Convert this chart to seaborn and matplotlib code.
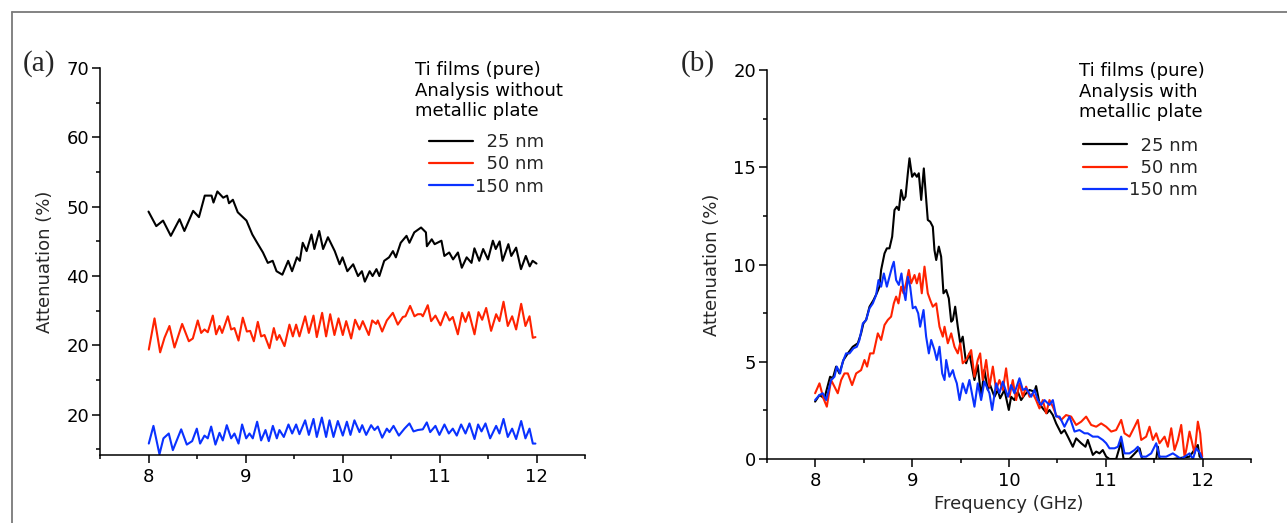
import matplotlib
matplotlib.use("Agg")
import matplotlib.pyplot as plt
from matplotlib.lines import Line2D
from matplotlib.ticker import MultipleLocator, FixedLocator
import numpy as np
import pandas as pd
import seaborn as sns

# ---------------- data ----------------
FILMS = ["25 nm", "50 nm", "150 nm"]
LEGEND_LABELS = ["  25 nm", "  50 nm", "150 nm"]
COLORS = {"25 nm": "#000000", "50 nm": "#ff2200", "150 nm": "#0a32ff"}

# Panel (a): without metallic plate
A_FREQ_25 = [8.00, 8.08, 8.15, 8.23, 8.32, 8.37, 8.46, 8.52, 8.58, 8.65, 8.67, 8.71, 8.77, 8.81, 8.83,
             8.87, 8.92, 9.01, 9.07, 9.12, 9.18, 9.23, 9.28, 9.32, 9.38, 9.44, 9.48, 9.53, 9.56, 9.59,
             9.63, 9.68, 9.71, 9.76, 9.80, 9.85, 9.92, 9.97, 10.00, 10.05, 10.11, 10.16, 10.20, 10.23,
             10.28, 10.31, 10.35, 10.38, 10.43, 10.48, 10.52, 10.55, 10.60, 10.66, 10.69, 10.74, 10.81,
             10.86, 10.87, 10.92, 10.95, 11.02, 11.05, 11.10, 11.14, 11.19, 11.23, 11.28, 11.33, 11.36,
             11.41, 11.45, 11.50, 11.55, 11.58, 11.62, 11.65, 11.71, 11.74, 11.79, 11.84, 11.89, 11.93,
             11.96, 12.00]
A_ATT_25 = [49.3, 47.2, 48.0, 45.8, 48.2, 46.5, 49.4, 48.5, 51.6, 51.6, 50.6, 52.2, 51.3, 51.6, 50.5,
            51.0, 49.2, 48.0, 46.0, 44.8, 43.4, 41.9, 42.2, 40.7, 40.2, 42.2, 40.7, 42.7, 42.2, 44.8,
            43.6, 46.0, 43.9, 46.5, 43.9, 45.6, 43.6, 41.7, 42.7, 40.7, 41.7, 40.0, 40.7, 39.2,
            40.7, 40.0, 41.0, 40.0, 42.2, 42.7, 43.6, 42.7, 44.8, 45.8, 44.8, 46.3, 47.0,
            46.3, 44.3, 45.3, 44.6, 45.1, 42.9, 43.4, 42.4, 43.4, 41.2, 42.7, 41.9, 44.0,
            42.2, 43.9, 42.4, 45.1, 43.9, 45.0, 42.2, 44.6, 42.9, 44.1, 41.0, 42.9, 41.4,
            42.2, 41.8]

A_FREQ_50 = [8.003, 8.062, 8.120, 8.165, 8.216, 8.268, 8.347, 8.416, 8.457, 8.508, 8.543, 8.577, 8.611,
             8.663, 8.697, 8.732, 8.759, 8.818, 8.852, 8.886, 8.928, 8.972, 9.014, 9.048, 9.086, 9.127,
             9.161, 9.196, 9.247, 9.292, 9.323, 9.350, 9.402, 9.453, 9.488, 9.522, 9.556, 9.615, 9.653,
             9.701, 9.735, 9.790, 9.831, 9.873, 9.917, 9.959, 10.003, 10.038, 10.089, 10.130, 10.175,
             10.209, 10.271,
             10.306, 10.347, 10.364, 10.409, 10.457, 10.519, 10.570, 10.622, 10.649, 10.697, 10.742,
             10.776, 10.811, 10.828, 10.879, 10.914, 10.958, 11.010, 11.062, 11.103, 11.137, 11.189,
             11.233, 11.268, 11.302, 11.361, 11.402, 11.440, 11.481, 11.532, 11.584, 11.618, 11.660,
             11.704, 11.749, 11.790, 11.842, 11.886, 11.928, 11.962, 11.989]
A_ATT_50 = [29.4, 33.9, 29.0, 31.1, 32.8, 29.7, 33.1, 30.6, 31.0, 33.6, 31.8, 32.3, 31.9,
            34.3, 31.6, 32.8, 31.8, 34.2, 32.3, 32.5, 30.7, 34.0, 32.0, 32.1, 30.6, 33.4,
            31.3, 31.5, 29.6, 32.5, 30.8, 31.5, 29.9, 33.0, 31.3, 33.0, 31.3, 34.2, 31.8,
            34.3, 31.2, 34.7, 31.3, 34.5, 31.5, 33.9, 31.5, 33.5, 31.0, 33.7, 32.3,
            33.5, 31.5,
            33.6, 33.1, 33.6, 32.0, 33.6, 34.7, 33.0, 34.1, 34.2, 35.7, 34.2,
            34.5, 34.5, 34.2, 35.8, 33.5, 34.3, 32.9, 34.8, 33.6, 34.1, 31.6,
            34.7, 33.4, 34.8, 31.6, 34.8, 33.7, 35.4, 32.1, 34.5, 33.5, 36.3,
            32.8, 34.2, 32.3, 36.0, 32.8, 34.2, 31.1, 31.2]

A_FREQ_150 = [8.003, 8.051, 8.113, 8.154, 8.209, 8.251, 8.337, 8.395, 8.450, 8.498, 8.532, 8.577, 8.611,
              8.646, 8.690, 8.732, 8.766, 8.807, 8.852, 8.886, 8.928, 8.965, 9.007, 9.041, 9.075, 9.120,
              9.161, 9.206, 9.240, 9.282, 9.323, 9.350, 9.395, 9.443, 9.481, 9.522, 9.556, 9.615, 9.653,
              9.701, 9.735, 9.787, 9.831, 9.866, 9.907, 9.952, 10.003, 10.045, 10.082, 10.123, 10.175,
              10.203, 10.244,
              10.295, 10.330, 10.364, 10.409, 10.457, 10.484, 10.526, 10.581, 10.639, 10.690, 10.732,
              10.776, 10.828, 10.869, 10.904, 10.958, 10.999, 11.051, 11.096, 11.137, 11.178, 11.223,
              11.268, 11.309, 11.361, 11.398, 11.433, 11.474, 11.522, 11.584, 11.618, 11.660, 11.704,
              11.749, 11.790, 11.842, 11.886, 11.928, 11.962, 11.989]
A_ATT_150 = [15.85, 18.4, 14.3, 16.6, 17.3, 14.9, 17.9, 15.7, 16.2, 18.0, 15.85, 17.0, 16.6,
             18.3, 15.7, 17.4, 16.3, 18.5, 16.6, 17.3, 15.85, 18.6, 16.6, 17.3, 16.6, 19.0,
             16.3, 17.8, 16.2, 18.4, 16.6, 17.8, 16.8, 18.6, 17.3, 18.6, 17.2, 19.2, 17.1,
             19.4, 16.8, 19.6, 16.8, 19.2, 16.8, 19.1, 17.0, 19.0, 17.1, 19.2, 17.5,
             18.5, 17.1,
             18.5, 17.8, 18.3, 16.7, 18.0, 17.5, 18.4, 17.0, 18.0, 18.75, 17.6,
             17.8, 17.9, 18.9, 17.5, 18.4, 17.1, 18.6, 17.3, 18.0, 17.0, 18.6,
             17.3, 18.75, 16.5, 18.6, 17.6, 18.75, 16.6, 18.4, 17.3, 19.4, 16.8,
             18.0, 16.5, 19.1, 16.6, 18.0, 15.85, 15.85]

A_YTICKS = [20, 30, 40, 50, 60, 70]
A_YTICKLABELS = ["20", "20", "40", "50", "60", "70"]

# Panel (b): with metallic plate
B_FREQ_25 = [7.997, 8.042, 8.093, 8.152, 8.180, 8.214, 8.248, 8.290, 8.335, 8.386, 8.438, 8.472, 8.496,
             8.524, 8.559, 8.600, 8.634, 8.662, 8.679, 8.714, 8.738, 8.765, 8.793, 8.817, 8.841, 8.862,
             8.886, 8.910, 8.931, 8.955, 8.972, 8.999, 9.024, 9.048, 9.068, 9.093, 9.120, 9.137, 9.161,
             9.186, 9.213, 9.230, 9.248, 9.275, 9.299, 9.323, 9.351, 9.378, 9.403, 9.420, 9.444, 9.471,
             9.496,
             9.522, 9.557, 9.591, 9.643, 9.677, 9.712, 9.746, 9.781, 9.805, 9.850, 9.884, 9.908, 9.953,
             9.998, 10.022, 10.056, 10.091, 10.125, 10.160, 10.212, 10.263, 10.280, 10.315, 10.349,
             10.391, 10.418, 10.453, 10.487, 10.539, 10.573, 10.608, 10.659, 10.694, 10.746, 10.790,
             10.814, 10.866, 10.901, 10.935, 10.969, 11.004, 11.038, 11.073, 11.107, 11.159, 11.183,
             11.245, 11.349, 11.376, 11.521, 11.538, 11.555, 11.693, 11.865, 11.951, 11.969, 11.996]
B_ATT_25 = [2.95, 3.29, 3.12, 4.23, 4.15, 4.75, 4.40, 5.09, 5.43, 5.77, 5.95, 6.46, 6.97,
            7.15, 7.83, 8.17, 8.52, 8.86, 9.72, 10.57, 10.83, 10.83, 11.43, 12.80, 12.97, 12.80,
            13.83, 13.32, 13.49, 14.69, 15.46, 14.51, 14.69, 14.51, 14.69, 13.32, 14.94, 13.83, 12.29,
            12.20, 11.94, 10.74, 10.23, 10.92, 10.40, 8.52, 8.69, 8.26, 7.06, 7.15, 7.83, 6.80,
            5.95,
            6.29, 4.92, 5.43, 4.06, 4.83, 3.20, 4.58, 3.55, 3.80, 3.20, 3.55, 3.12, 3.55,
            2.52, 3.20, 3.03, 3.46, 3.03, 3.29, 3.55, 3.46, 3.75, 2.86, 2.60,
            2.35, 2.52, 2.26, 1.83, 1.32, 1.49, 1.15, 0.63, 1.06, 0.81, 0.63,
            0.98, 0.21, 0.38, 0.29, 0.46, 0.12, 0.0, 0.0, 0.0, 0.89, 0.0,
            0.0, 0.55, 0.0, 0.0, 0.63, 0.0, 0.0, 0.12, 0.72, 0.12, 0.03]

B_FREQ_50 = [7.997, 8.042, 8.083, 8.118, 8.162, 8.197, 8.231, 8.266, 8.300, 8.335, 8.379, 8.421, 8.472,
             8.507, 8.534, 8.565, 8.600, 8.645, 8.679, 8.714, 8.748, 8.782, 8.810, 8.834, 8.858, 8.886,
             8.910, 8.937, 8.965, 8.989, 9.024, 9.048, 9.075, 9.099, 9.127, 9.161, 9.186, 9.213, 9.248,
             9.282, 9.316, 9.334, 9.368, 9.403, 9.437, 9.471, 9.496,
             9.522, 9.557, 9.609, 9.643, 9.677, 9.702, 9.729, 9.764, 9.798, 9.833, 9.867, 9.901, 9.936,
             9.970, 10.005, 10.039, 10.074, 10.108, 10.143, 10.177, 10.212, 10.246, 10.280, 10.315,
             10.349, 10.384, 10.418, 10.453, 10.487, 10.539, 10.590, 10.642, 10.694, 10.746, 10.797,
             10.849, 10.901, 10.952, 11.004, 11.056, 11.107, 11.159, 11.193, 11.245, 11.297, 11.331,
             11.366, 11.417, 11.452, 11.486, 11.521, 11.555, 11.607, 11.641, 11.676, 11.710, 11.745,
             11.779, 11.814, 11.831, 11.865, 11.917, 11.951, 11.975, 11.996]
B_ATT_50 = [3.38, 3.89, 3.12, 2.69, 4.06, 3.72, 3.38, 4.06, 4.40, 4.40, 3.80, 4.40, 4.57,
            5.09, 4.75, 5.43, 5.43, 6.46, 6.12, 6.89, 7.15, 7.32, 8.00, 8.35, 8.00, 8.86,
            8.52, 9.03, 9.72, 9.03, 9.46, 9.03, 9.54, 8.52, 9.89, 8.52, 8.17, 7.83, 8.00,
            6.80, 6.29, 6.80, 5.95, 6.46, 5.77, 5.43, 5.95,
            4.92, 5.09, 5.60, 4.23, 5.09, 5.43, 4.06, 5.09, 3.72, 4.75, 3.55, 4.06, 3.55,
            4.66, 3.20, 4.06, 3.03, 3.89, 3.20, 3.72, 3.20, 3.38, 3.03, 2.60,
            3.03, 2.35, 3.03, 2.69, 2.26, 2.01, 2.26, 2.18, 1.75, 1.92, 2.18,
            1.75, 1.66, 1.83, 1.66, 1.41, 1.49, 2.01, 1.32, 1.15, 1.66, 2.01,
            0.98, 1.15, 1.66, 0.98, 1.32, 0.81, 1.15, 0.63, 1.58, 0.46, 0.98,
            1.75, 0.12, 0.46, 1.41, 0.29, 1.92, 1.32, 0.12]

B_FREQ_150 = [7.997, 8.042, 8.076, 8.111, 8.162, 8.197, 8.221, 8.255, 8.283, 8.317, 8.352, 8.393, 8.428,
              8.455, 8.490, 8.524, 8.559, 8.593, 8.627, 8.652, 8.679, 8.707, 8.738, 8.765, 8.793, 8.810,
              8.834, 8.862, 8.889, 8.910, 8.931, 8.955, 8.979, 9.006, 9.034, 9.062, 9.082, 9.117, 9.144,
              9.172, 9.196, 9.230, 9.254, 9.282, 9.310, 9.334, 9.351, 9.385, 9.420, 9.437, 9.461, 9.489,
              9.522, 9.557, 9.591, 9.643, 9.677, 9.712, 9.746, 9.798, 9.826, 9.867, 9.901, 9.936, 9.988,
              10.022, 10.056, 10.108, 10.143, 10.177, 10.229, 10.263, 10.298, 10.332, 10.367, 10.418,
              10.453, 10.487, 10.522, 10.573, 10.625, 10.677, 10.728, 10.780, 10.814, 10.866, 10.918,
              10.969, 11.004, 11.038, 11.090, 11.125, 11.159, 11.193, 11.245, 11.297, 11.331, 11.366,
              11.417, 11.469, 11.521, 11.555, 11.624, 11.693, 11.779, 11.865, 11.900, 11.934, 11.975,
              11.996]
B_ATT_150 = [3.03, 3.29, 3.38, 3.03, 4.06, 4.23, 4.75, 4.40, 5.00, 5.43, 5.43, 5.69, 5.77,
             6.12, 6.97, 7.15, 7.75, 8.00, 8.43, 9.20, 8.86, 9.54, 8.86, 9.37, 9.89, 10.14,
             9.20, 8.95, 9.54, 8.69, 8.17, 9.37, 8.86, 7.75, 7.83, 7.49, 6.80, 7.66, 6.29,
             5.43, 6.12, 5.60, 5.09, 5.77, 4.40, 4.06, 5.09, 4.23, 4.57, 4.23, 3.89, 3.03,
             3.89, 3.38, 4.06, 2.69, 3.89, 3.03, 3.98, 3.38, 2.52, 3.89, 3.38, 3.98, 3.20,
             3.80, 3.38, 4.15, 3.55, 3.63, 3.20, 3.55, 3.03, 2.78, 3.03, 2.78,
             3.03, 2.18, 2.18, 1.66, 2.18, 1.41, 1.49, 1.32, 1.32, 1.15, 1.15,
             0.98, 0.81, 0.55, 0.55, 0.63, 1.15, 0.29, 0.29, 0.46, 0.63, 0.12,
             0.12, 0.29, 0.81, 0.12, 0.12, 0.29, 0.0, 0.29, 0.0, 0.55, 0.29,
             0.0]

B_YTICKS = [0, 5, 10, 15, 20]
X_TICKS = [8, 9, 10, 11, 12]

TITLE_A = "Ti films (pure)\nAnalysis without\nmetallic plate"
TITLE_B = "Ti films (pure)\nAnalysis with\nmetallic plate"


def make_frame(series):
    parts = []
    for film, (f, a) in zip(FILMS, series):
        parts.append(pd.DataFrame({"freq": f, "att": a, "film": film}))
    return pd.concat(parts, ignore_index=True)


df_a = make_frame([(A_FREQ_25, A_ATT_25), (A_FREQ_50, A_ATT_50), (A_FREQ_150, A_ATT_150)])
df_b = make_frame([(B_FREQ_25, B_ATT_25), (B_FREQ_50, B_ATT_50), (B_FREQ_150, B_ATT_150)])

# ---------------- style ----------------
sns.set_theme(style="white")
plt.rcParams["font.family"] = ["DejaVu Sans"]
FS = 13

fig = plt.figure(figsize=(12.87, 5.23), dpi=100)
W, H = 1287, 523
ax_a = fig.add_axes([100 / W, 68 / H, 485 / W, 387 / H])
ax_b = fig.add_axes([767 / W, 64 / H, 484 / W, 389 / H])

for ax, df in ((ax_a, df_a), (ax_b, df_b)):
    sns.lineplot(data=df, x="freq", y="att", hue="film", hue_order=FILMS, palette=COLORS,
                 estimator=None, sort=False, linewidth=1.5, legend=False, ax=ax)
    ax.set_xlim(7.5, 12.5)
    ax.xaxis.set_major_locator(FixedLocator(X_TICKS))
    ax.xaxis.set_minor_locator(MultipleLocator(0.5))
    for s in ("top", "right"):
        ax.spines[s].set_visible(False)
    for s in ("left", "bottom"):
        ax.spines[s].set_linewidth(1.1)
        ax.spines[s].set_color("black")
    ax.tick_params(which="both", direction="out", left=True, bottom=True, color="black",
                   width=1.1, labelsize=FS, labelcolor="black")
    ax.tick_params(which="major", length=5.5)
    ax.tick_params(which="minor", length=3.2)
    ax.tick_params(axis="y", pad=2.5)
    ax.tick_params(axis="x", pad=3.5)
    ax.set_facecolor("white")
    ax.set_xlabel("")

# panel a axes
ax_a.set_ylim(14.2, 70)
ax_a.yaxis.set_major_locator(FixedLocator(A_YTICKS))
ax_a.set_yticklabels(A_YTICKLABELS)
ax_a.yaxis.set_minor_locator(MultipleLocator(5))
ax_a.set_ylabel("Attenuation (%)", fontsize=FS, labelpad=9)

# panel b axes
ax_b.set_ylim(0, 20)
ax_b.yaxis.set_major_locator(FixedLocator(B_YTICKS))
ax_b.yaxis.set_minor_locator(MultipleLocator(2.5))
ax_b.set_ylabel("Attenuation (%)", fontsize=FS, labelpad=9)
ax_b.set_xlabel("Frequency (GHz)", fontsize=FS, labelpad=4)

# legends
handles = [Line2D([], [], color=COLORS[f], lw=1.6) for f in FILMS]
for ax, title, tx, ty, lx, ly in ((ax_a, TITLE_A, 0.649, 1.017, 0.678, 0.832),
                                  (ax_b, TITLE_B, 0.645, 1.020, 0.653, 0.829)):
    ax.text(tx, ty, title, transform=ax.transAxes, ha="left", va="top", fontsize=FS,
            linespacing=1.17, color="black")
    ax.legend(handles, LEGEND_LABELS, loc="upper left", bbox_to_anchor=(lx, ly), frameon=False,
              fontsize=FS, handlelength=2.44, handletextpad=0.12, labelspacing=0.24,
              borderpad=0, borderaxespad=0)

# panel labels
fig.text(23 / W, 1 - 64 / H, "(a)", family="Liberation Serif", fontsize=21, va="center", ha="left")
fig.text(681 / W, 1 - 64 / H, "(b)", family="Liberation Serif", fontsize=21, va="center", ha="left")

# figure frame lines (top and left)
fig.add_artist(Line2D([12 / W, 1], [1 - 12 / H, 1 - 12 / H], transform=fig.transFigure,
                      color="#7a7a7a", lw=1.3))
fig.add_artist(Line2D([12 / W, 12 / W], [0, 1 - 12 / H], transform=fig.transFigure,
                      color="#7a7a7a", lw=1.3))

fig.savefig("out.png", dpi=100, facecolor="white")
